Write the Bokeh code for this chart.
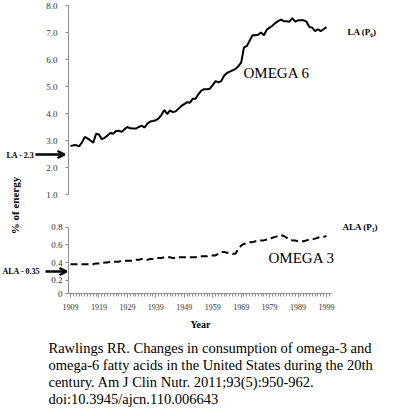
import math
from bokeh.plotting import figure
from bokeh.models import (Range1d, LinearAxis, FixedTicker, Label, Arrow, OpenHead,
                          NumeralTickFormatter)
from bokeh.embed import file_html
from bokeh.resources import INLINE

# ---------------- data ----------------
years = list(range(1909, 2000))
la_pct = [
    2.80, 2.82, 2.83, 2.78, 2.92, 3.13, 3.08, 3.00, 2.92, 3.25,   # 1909-1918
    3.22, 3.05, 3.10, 3.18, 3.28, 3.25, 3.35, 3.36, 3.32, 3.42,   # 1919-1928
    3.50, 3.45, 3.44, 3.44, 3.50, 3.55, 3.48, 3.62, 3.70, 3.72,   # 1929-1938
    3.75, 3.82, 3.95, 4.13, 3.98, 4.12, 4.05, 4.08, 4.18, 4.28,   # 1939-1948
    4.35, 4.42, 4.40, 4.55, 4.55, 4.72, 4.85, 4.90, 4.90, 4.92,   # 1949-1958
    5.05, 5.20, 5.15, 5.20, 5.40, 5.50, 5.55, 5.60, 5.65, 5.75,   # 1959-1968
    5.88, 6.45, 6.50, 6.70, 6.90, 6.90, 6.92, 7.00, 6.90, 7.10,   # 1969-1978
    7.18, 7.25, 7.35, 7.42, 7.48, 7.42, 7.42, 7.40, 7.53, 7.40,   # 1979-1988
    7.45, 7.45, 7.45, 7.40, 7.20, 7.18, 7.05, 7.12, 7.05, 7.12,   # 1989-1998
    7.20,                                                          # 1999
]
ala_pct = [
    0.38, 0.38, 0.38, 0.38, 0.38, 0.38, 0.38, 0.38, 0.38, 0.39,   # 1909-1918
    0.39, 0.39, 0.40, 0.40, 0.41, 0.41, 0.41, 0.41, 0.42, 0.42,   # 1919-1928
    0.42, 0.42, 0.42, 0.43, 0.43, 0.44, 0.44, 0.43, 0.44, 0.44,   # 1929-1938
    0.45, 0.45, 0.45, 0.46, 0.46, 0.46, 0.45, 0.45, 0.46, 0.46,   # 1939-1948
    0.46, 0.46, 0.46, 0.46, 0.46, 0.47, 0.47, 0.47, 0.47, 0.48,   # 1949-1958
    0.48, 0.48, 0.50, 0.52, 0.52, 0.51, 0.51, 0.50, 0.50, 0.55,   # 1959-1968
    0.59, 0.61, 0.62, 0.63, 0.63, 0.64, 0.64, 0.65, 0.65, 0.66,   # 1969-1978
    0.67, 0.68, 0.69, 0.70, 0.71, 0.70, 0.68, 0.66, 0.65, 0.65,   # 1979-1988
    0.64, 0.64, 0.64, 0.65, 0.66, 0.66, 0.67, 0.68, 0.69, 0.69,   # 1989-1998
    0.70,                                                          # 1999
]
x_ticks = [1909, 1919, 1929, 1939, 1949, 1959, 1969, 1979, 1989, 1999]
x_minor_ticks = list(range(1909, 2001))
upper_ticks = [1, 2, 3, 4, 5, 6, 7, 8]
lower_ticks = [0.05, 0.2, 0.4, 0.6, 0.8]
lower_tick_labels = {0.05: "0", 0.2: "0.2", 0.4: "0.4", 0.6: "0.6", 0.8: "0.8"}

citation = [
    "Rawlings RR. Changes in consumption of omega-3 and",
    "omega-6 fatty acids in the United States during the 20th",
    "century. Am J Clin Nutr. 2011;93(5):950-962.",
    "doi:10.3945/ajcn.110.006643",
]

# ---------------- layout constants (pixels) ----------------
W, H = 415, 416
AXL, AXR, AXB = 68, 331, 293               # plot-area edges in page pixels
PX_PER_YEAR = 2.844                        # 1909 sits at x = 70
LOW_BASE, LOW_PX = 0.05, 88.5              # lower panel: value at the x-axis, px per unit
UP_TOP, UP_TOP_PX, UP_PX = 8.0, 5, 27.0    # upper panel: 8.0 at y = 5, px per unit


def xpx(px):
    return 1909 + (px - 70) / PX_PER_YEAR


def ylow(py):
    return LOW_BASE + (AXB - py) / LOW_PX


def yup(py):
    return UP_TOP - (py - UP_TOP_PX) / UP_PX


SERIF = "'Liberation Serif', 'Times New Roman', serif"

p = figure(width=W, height=H, x_range=Range1d(xpx(0), xpx(W)),
           y_range=Range1d(ylow(H), ylow(0)),
           output_backend="svg", toolbar_location=None,
           x_axis_type=None, y_axis_type=None, min_border=0)
p.title.visible = False
p.outline_line_color = None
p.background_fill_color = "white"
p.border_fill_color = "white"
p.extra_y_ranges = {"upper": Range1d(yup(H), yup(0))}

AX_COLOR = "#8c8c8c"
LBL_COLOR = "#333333"

ax_up = LinearAxis(y_range_name="upper", ticker=FixedTicker(ticks=upper_ticks),
                   formatter=NumeralTickFormatter(format="0.0"),
                   bounds=(1, 8), fixed_location=xpx(AXL))
ax_low = LinearAxis(ticker=FixedTicker(ticks=lower_ticks),
                    major_label_overrides=lower_tick_labels,
                    bounds=(LOW_BASE, 0.8), fixed_location=xpx(AXL))
for ax, standoff in ((ax_up, 8), (ax_low, 3)):
    ax.axis_line_color = AX_COLOR
    ax.major_tick_line_color = AX_COLOR
    ax.major_tick_out = 3
    ax.major_tick_in = 0
    ax.minor_tick_line_color = None
    ax.major_label_text_font = SERIF
    ax.major_label_text_font_size = "9px"
    ax.major_label_text_color = LBL_COLOR
    ax.major_label_standoff = standoff
    p.add_layout(ax, "left")

ax_x = LinearAxis(ticker=FixedTicker(ticks=x_ticks, minor_ticks=x_minor_ticks),
                  bounds=(xpx(AXL), xpx(AXR)), fixed_location=LOW_BASE)
ax_x.axis_line_color = AX_COLOR
ax_x.major_tick_line_color = AX_COLOR
ax_x.minor_tick_line_color = AX_COLOR
ax_x.major_tick_out = 4
ax_x.major_tick_in = 0
ax_x.minor_tick_out = 3
ax_x.minor_tick_in = 0
ax_x.major_label_text_font = SERIF
ax_x.major_label_text_font_size = "8px"
ax_x.major_label_text_color = LBL_COLOR
ax_x.major_label_standoff = 6
p.add_layout(ax_x, "below")

# ---------------- series ----------------
p.line(years, la_pct, y_range_name="upper", line_color="black", line_width=2)
p.line(years, ala_pct, line_color="black", line_width=2, line_dash="7 4")


# ---------------- annotations ----------------
def add_label(text, px, py, size, bold=False, align="left", angle=0.0):
    p.add_layout(Label(x=xpx(px), y=ylow(py), text=text, text_font=SERIF,
                       text_font_size=size, text_font_style="bold" if bold else "normal",
                       text_color="black", text_align=align, text_baseline="middle",
                       angle=angle))


add_label("LA  (P\u2086)", 347, 31, "9px", bold=True)
add_label("OMEGA 6", 243, 72, "15px")
add_label("ALA  (P\u2083)", 342, 226, "9px", bold=True)
add_label("OMEGA 3", 268, 257, "15px")
add_label("LA - 2.3", 6, 155, "8px", bold=True)
add_label("ALA - 0.35", 2, 271, "8px", bold=True)
add_label("% of energy", 14, 205, "11px", bold=True, align="center", angle=math.pi / 2)
add_label("Year", 200, 324, "10px", bold=True, align="center")

for (px0, px1, py) in ((35, 64, 154), (45, 66, 271)):
    p.add_layout(Arrow(x_start=xpx(px0), y_start=ylow(py), x_end=xpx(px1), y_end=ylow(py),
                       line_width=2.5, line_color="black",
                       end=OpenHead(size=7, line_width=2.5, line_color="black")))

for i, line in enumerate(citation):
    add_label(line, 48, 347 + 17 * i, "14.5px")

open("out.html", "w").write(file_html(p, INLINE))
